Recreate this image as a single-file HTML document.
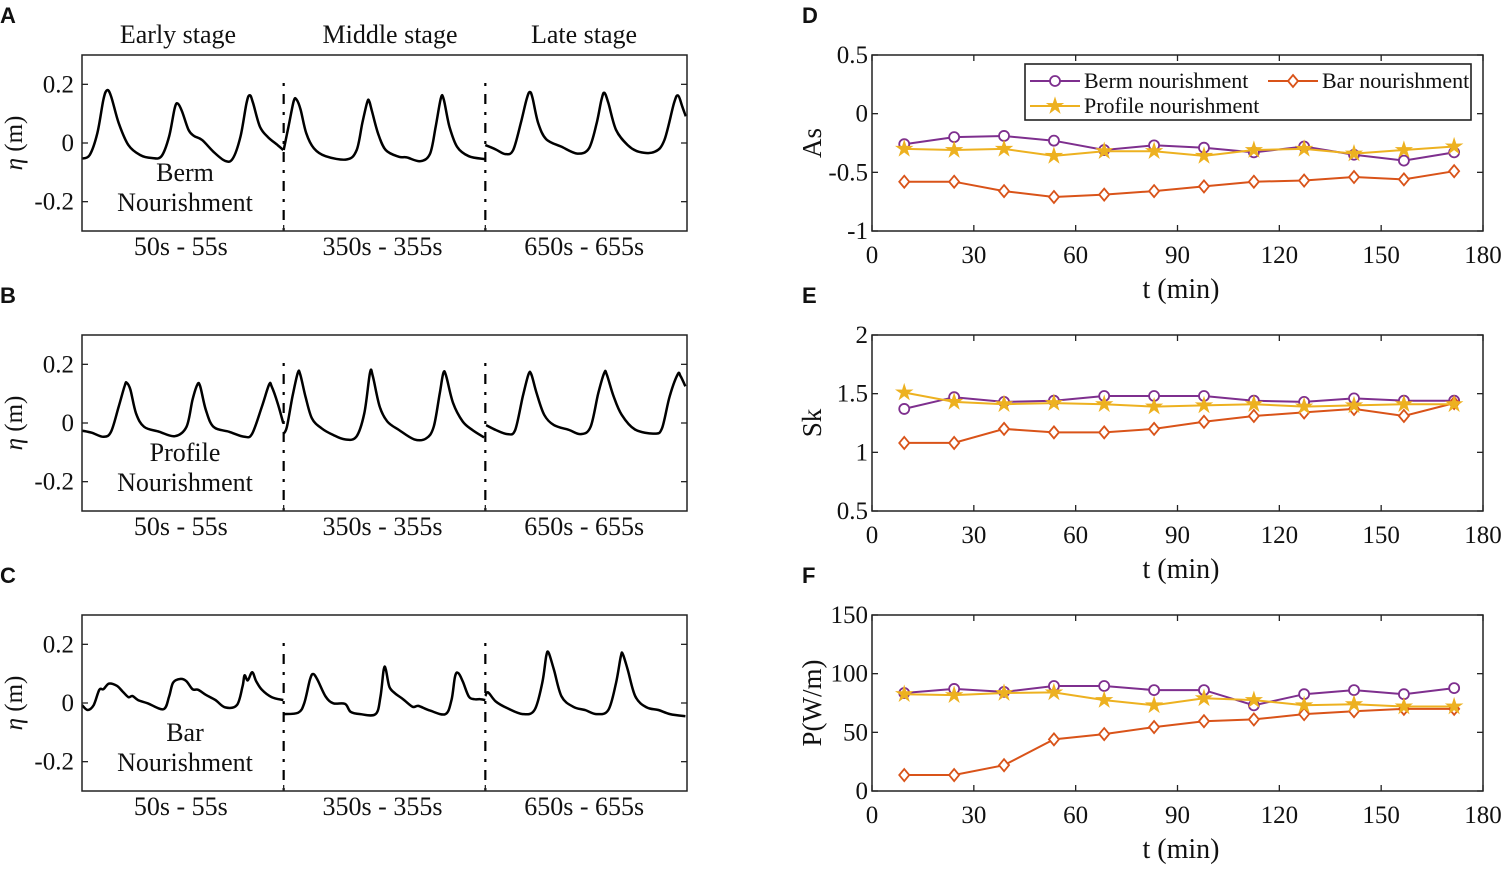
<!DOCTYPE html>
<html><head><meta charset="utf-8"><style>
body{margin:0;background:#fff;width:1503px;height:865px;overflow:hidden}
svg text{font-family:"Liberation Serif",serif;fill:#111}
</style></head><body>
<svg id="fig" width="1503" height="865" xmlns="http://www.w3.org/2000/svg"></svg>
<script>
// ---- Left panels: wave elevation data (t in seconds within each 5 s window, eta in m)
const segLabels=["50s - 55s","350s - 355s","650s - 655s"];
const stageLabels=["Early stage","Middle stage","Late stage"];
const etaTicks=[0.2,0,-0.2];
const bermT1=[0,.19,.38,.53,.62,.72,.91,1.15,1.44,1.73,1.97,2.16,2.30,2.38,2.48,2.64,2.78,2.98,3.26,3.55,3.74,3.93,4.08,4.16,4.24,4.41,4.61,4.85,4.99];
const bermE1=[-.053,-.041,.033,.148,.18,.16,.068,-.007,-.041,-.051,-.045,.022,.12,.134,.108,.045,.024,.01,-.03,-.061,-.053,.022,.137,.163,.137,.056,.02,-.007,-.024];
const bermT2=[0,.12,.25,.32,.42,.56,.75,1.04,1.57,1.81,1.95,2.07,2.12,2.19,2.34,2.53,2.86,3.05,3.39,3.63,3.77,3.90,3.97,4.11,4.30,4.59,5.0];
const bermE2=[-.024,.056,.143,.148,.114,.033,-.018,-.045,-.056,-.024,.068,.139,.143,.108,.033,-.024,-.047,-.049,-.062,-.036,.056,.154,.148,.056,-.013,-.045,-.055];
const bermT3=[0,.26,.50,.69,.88,1.02,1.10,1.17,1.31,1.51,1.89,2.28,2.57,2.76,2.88,2.95,3.05,3.24,3.53,3.81,4.2,4.44,4.68,4.78,4.88,4.97];
const bermE3=[-.007,-.022,-.038,-.024,.068,.148,.174,.154,.068,.013,-.013,-.036,-.018,.068,.148,.171,.137,.045,-.007,-.03,-.03,.01,.137,.162,.125,.091];
const profT1=[0,.24,.53,.72,.91,1.06,1.11,1.20,1.34,1.54,1.92,2.30,2.59,2.74,2.86,2.93,3.07,3.26,3.65,4.03,4.22,4.46,4.64,4.70,4.85,4.99];
const profE1=[-.026,-.033,-.047,-.03,.056,.128,.137,.114,.033,-.013,-.03,-.045,-.013,.079,.131,.125,.045,-.013,-.03,-.047,-.036,.056,.131,.125,.068,-.001];
const profT2=[0,.08,.22,.35,.41,.54,.70,.94,1.23,1.52,1.80,2.0,2.14,2.21,2.38,2.57,2.86,3.24,3.53,3.72,3.87,3.96,4.03,4.20,4.44,4.68,4.97];
const profE2=[-.036,-.013,.091,.171,.166,.091,.016,-.018,-.041,-.056,-.047,.033,.171,.16,.056,.005,-.024,-.056,-.053,-.013,.102,.171,.16,.068,.005,-.024,-.049];
const profT3=[.02,.26,.55,.74,.93,1.07,1.14,1.27,1.46,1.70,2.08,2.37,2.61,2.80,2.95,3.01,3.18,3.38,3.71,4.19,4.38,4.57,4.77,4.84,4.96];
const profE3=[-.007,-.024,-.038,-.024,.091,.166,.166,.102,.028,-.007,-.024,-.038,-.013,.102,.171,.166,.091,.028,-.022,-.036,-.018,.091,.166,.16,.125];
const barT1=[0,.14,.29,.43,.53,.67,.86,1.01,1.15,1.25,1.39,1.63,2.02,2.16,2.26,2.45,2.59,2.74,2.88,3.07,3.31,3.55,3.84,3.98,4.03,4.11,4.22,4.32,4.46,4.70,4.99];
const barE1=[-.007,-.024,-.007,.045,.047,.066,.059,.039,.02,.024,.01,-.001,-.021,.022,.07,.082,.074,.047,.045,.028,.01,-.015,-.007,.056,.094,.077,.105,.074,.045,.02,.01];
const barT2=[0,.36,.51,.65,.73,.84,1.04,1.23,1.52,1.66,1.90,2.28,2.40,2.48,2.53,2.62,2.76,2.96,3.20,3.34,3.63,4.01,4.16,4.25,4.33,4.44,4.59,4.73,4.88,5.0];
const barE2=[-.038,-.033,-.001,.079,.099,.079,.022,-.001,-.003,-.03,-.038,-.038,.022,.114,.116,.056,.033,.013,-.013,-.01,-.026,-.038,.01,.091,.102,.074,.022,.013,.013,.01];
const barT3=[0,.07,.26,.55,.93,1.22,1.41,1.51,1.57,1.70,1.89,2.18,2.47,2.76,3.05,3.24,3.36,3.41,3.53,3.72,4.0,4.29,4.58,4.96];
const barE3=[.024,.036,.005,-.018,-.038,-.024,.068,.16,.171,.114,.022,-.013,-.024,-.038,-.024,.068,.16,.166,.114,.022,-.015,-.024,-.038,-.045];

// ---- Right panels data
const tMin=[9.5,24.2,38.9,53.6,68.4,83.1,97.8,112.5,127.3,142,156.7,171.5];
const tTicks=[0,30,60,90,120,150,180];
const asBerm=[-0.26,-0.2,-0.19,-0.23,-0.31,-0.27,-0.29,-0.33,-0.28,-0.35,-0.4,-0.33];
const asProfile=[-0.3,-0.31,-0.3,-0.36,-0.32,-0.32,-0.36,-0.31,-0.3,-0.34,-0.31,-0.28];
const asBar=[-0.58,-0.58,-0.66,-0.71,-0.69,-0.66,-0.62,-0.58,-0.57,-0.54,-0.56,-0.49];
const skBerm=[1.37,1.47,1.43,1.44,1.48,1.48,1.48,1.44,1.43,1.46,1.44,1.44];
const skProfile=[1.51,1.43,1.41,1.42,1.41,1.39,1.40,1.41,1.39,1.40,1.41,1.41];
const skBar=[1.08,1.08,1.2,1.17,1.17,1.2,1.26,1.31,1.34,1.37,1.31,1.42];
const pBerm=[83.5,87,84.5,89.5,89.5,86,86,73,82.5,86,82.5,87.7];
const pProfile=[82.5,81.7,83.5,84,77.5,73,79,77.5,73,74,72,72];
const pBar=[13.6,13.6,22,44,48.5,54.5,59.5,61,65.5,68,70,70];
const asTicks=[0.5,0,-0.5,-1];
const skTicks=[2,1.5,1,0.5];
const pTicks=[150,100,50,0];

const NS="http://www.w3.org/2000/svg";
const svg=document.getElementById('fig');
function mk(tag,attrs,parent){const e=document.createElementNS(NS,tag);for(const k in attrs)e.setAttribute(k,attrs[k]);(parent||svg).appendChild(e);return e;}
function txt(x,y,s,size,anchor,parent,extra){const t=mk('text',Object.assign({x:x,y:y,'font-size':size,'text-anchor':anchor||'middle'},extra||{}),parent);t.textContent=s;return t;}
function smooth(pts){let d='M'+pts[0][0].toFixed(1)+','+pts[0][1].toFixed(1);
 for(let i=0;i<pts.length-1;i++){const p0=pts[Math.max(0,i-1)],p1=pts[i],p2=pts[i+1],p3=pts[Math.min(pts.length-1,i+2)];
  const c1=[p1[0]+(p2[0]-p0[0])/6,p1[1]+(p2[1]-p0[1])/6],c2=[p2[0]-(p3[0]-p1[0])/6,p2[1]-(p3[1]-p1[1])/6];
  d+=' C'+c1[0].toFixed(1)+','+c1[1].toFixed(1)+' '+c2[0].toFixed(1)+','+c2[1].toFixed(1)+' '+p2[0].toFixed(1)+','+p2[1].toFixed(1);}
 return d;}

// ---- left panels
const L={x0:82,x1:687};
const segW=(L.x1-L.x0)/3;
const leftPanels=[
 {top:55,letter:'A',name:'berm',label:['Berm','Nourishment'],T:[bermT1,bermT2,bermT3],E:[bermE1,bermE2,bermE3]},
 {top:335,letter:'B',name:'profile',label:['Profile','Nourishment'],T:[profT1,profT2,profT3],E:[profE1,profE2,profE3]},
 {top:615,letter:'C',name:'bar',label:['Bar','Nourishment'],T:[barT1,barT2,barT3],E:[barE1,barE2,barE3]}];
leftPanels.forEach(p=>{
 const H=176,bot=p.top+H;
 const ys=v=>p.top+(0.3-v)/0.6*H;
 const g=mk('g',{});
 
 
 const lt=mk('text',{x:0,y:p.top-32,'font-size':22,'font-weight':'bold',style:'font-family:"Liberation Sans",sans-serif'},g);
 lt.textContent=p.letter;
 
 
 etaTicks.forEach(v=>{const y=ys(v);
  mk('line',{x1:L.x0,x2:L.x0+6,y1:y,y2:y,stroke:'#222','stroke-width':1.3},g);
  mk('line',{x1:L.x1,x2:L.x1-6,y1:y,y2:y,stroke:'#222','stroke-width':1.3},g);
  const t=txt(L.x0-8,y+8,v===0?'0':String(v),25,'end',g);
  
  });
 const yl=mk('text',{x:0,y:0,'font-size':25,'text-anchor':'middle',transform:'translate(22,'+(p.top+H/2)+') rotate(-90)'},g);
 yl.innerHTML='<tspan font-style="italic">η</tspan> (m)';
 
 
 for(let s=0;s<3;s++){
  const xs=t=>L.x0+s*segW+t/5*segW;
  const pts=p.T[s].map((t,i)=>[xs(t),ys(p.E[s][i])]);
  const path=mk('path',{d:smooth(pts),fill:'none',stroke:'#000','stroke-width':2.5},g);
  
  
  const sl=txt(L.x0+s*segW+segW/2-2,bot+24,segLabels[s],26,'middle',g);
  
  
  if(s>0){const x=L.x0+s*segW;
   const dl=mk('line',{x1:x,x2:x,y1:p.top+28,y2:bot,stroke:'#000','stroke-width':2.2,'stroke-dasharray':'3,8,10,8'},g);
   
   
   mk('line',{x1:x,x2:x,y1:bot,y2:bot-6,stroke:'#222','stroke-width':1.3},g);}
 }
 mk('rect',{x:L.x0,y:p.top,width:L.x1-L.x0,height:H,fill:'none',stroke:'#222','stroke-width':1.5},g);
 const l1=txt(185,p.top+126,p.label[0],26,'middle',g);
 
 
 txt(185,p.top+156,p.label[1],26,'middle',g);
});
stageLabels.forEach((s,i)=>{const t=txt([178,390,584][i],43,s,26,'middle');
 
 });

// ---- right panels
const R={x0:872,x1:1483};
const xs=t=>R.x0+t/180*(R.x1-R.x0);
const colors={berm:'#7E2F8E',bar:'#D95319',profile:'#EDB120'};
const rightPanels=[
 {top:55,letter:'D',ylab:'As',min:-1,max:0.5,ticks:asTicks,berm:asBerm,profile:asProfile,bar:asBar},
 {top:335,letter:'E',ylab:'Sk',min:0.5,max:2,ticks:skTicks,berm:skBerm,profile:skProfile,bar:skBar},
 {top:615,letter:'F',ylab:'P(W/m)',min:0,max:150,ticks:pTicks,berm:pBerm,profile:pProfile,bar:pBar}];
function marker(kind,x,y,g){
 if(kind==='berm')return mk('circle',{cx:x,cy:y,r:5,fill:'#fff',stroke:colors.berm,'stroke-width':1.8},g);
 if(kind==='bar')return mk('path',{d:`M${x},${y-6} L${x+5},${y} L${x},${y+6} L${x-5},${y} Z`,fill:'#fff',stroke:colors.bar,'stroke-width':1.8},g);
 let d='';for(let k=0;k<10;k++){const a=-Math.PI/2+k*Math.PI/5,r=k%2?3:8;d+=(k?'L':'M')+(x+r*Math.cos(a)).toFixed(1)+','+(y+r*Math.sin(a)).toFixed(1);}
 return mk('path',{d:d+'Z',fill:colors.profile,stroke:colors.profile,'stroke-width':1},g);
}
rightPanels.forEach(p=>{
 const H=176,bot=p.top+H;
 const ys=v=>p.top+(p.max-v)/(p.max-p.min)*H;
 const g=mk('g',{});
 
 
 const lt=mk('text',{x:802,y:p.top-32,'font-size':22,'font-weight':'bold',style:'font-family:"Liberation Sans",sans-serif'},g);
 lt.textContent=p.letter;
 p.ticks.forEach(v=>{const y=ys(v);
  mk('line',{x1:R.x0,x2:R.x0+6,y1:y,y2:y,stroke:'#222','stroke-width':1.3},g);
  mk('line',{x1:R.x1,x2:R.x1-6,y1:y,y2:y,stroke:'#222','stroke-width':1.3},g);
  const t=txt(R.x0-4,y+8,String(v),25,'end',g);
  
  });
 tTicks.forEach(v=>{const x=xs(v);
  mk('line',{x1:x,x2:x,y1:bot,y2:bot-6,stroke:'#222','stroke-width':1.3},g);
  mk('line',{x1:x,x2:x,y1:p.top,y2:p.top+6,stroke:'#222','stroke-width':1.3},g);
  const t=txt(x,bot+32,String(v),25,'middle',g);
  
  });
 const xl=txt(1181,bot+67,'t (min)',28,'middle',g);
 
 
 const yl=txt(0,0,p.ylab,27,'middle',g,{transform:'translate(821,'+(p.top+H/2)+') rotate(-90)'});
 
 
 ['berm','bar','profile'].forEach(k=>{
  const pts=tMin.map((t,i)=>xs(t).toFixed(1)+','+ys(p[k][i]).toFixed(1)).join(' ');
  const pl=mk('polyline',{points:pts,fill:'none',stroke:colors[k],'stroke-width':2},g);
  
  
  tMin.forEach((t,i)=>{const m=marker(k,xs(t),ys(p[k][i]),g);
   
   });
 });
 mk('rect',{x:R.x0,y:p.top,width:R.x1-R.x0,height:H,fill:'none',stroke:'#222','stroke-width':1.5},g);
});
// legend
const lg=mk('g',{});


mk('rect',{x:1025,y:64,width:446,height:56,fill:'#fff',stroke:'#222','stroke-width':1.6},lg);
[['berm','Berm nourishment',1030,81],['bar','Bar nourishment',1268,81],['profile','Profile nourishment',1030,106]].forEach(e=>{
 const [k,s,x,y]=e;
 const ent=mk('g',{},lg);
 
 
 mk('line',{x1:x,x2:x+50,y1:y,y2:y,stroke:colors[k],'stroke-width':2},ent);
 marker(k,x+25,y,ent);
 txt(x+54,y+7,s,22,'start',ent);
});
</script>
</body></html>
